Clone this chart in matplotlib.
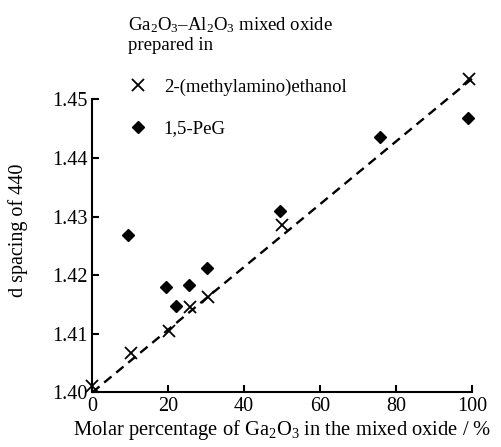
import matplotlib
matplotlib.use("Agg")
import matplotlib.pyplot as plt
from matplotlib.lines import Line2D

plt.rcParams['font.family'] = ['Liberation Serif', 'DejaVu Serif']
plt.rcParams['mathtext.fontset'] = 'custom'
plt.rcParams['mathtext.rm'] = 'Liberation Serif'
plt.rcParams['mathtext.it'] = 'Liberation Serif:italic'

# Data
mea_x = [0.0, 10.1, 20.3, 25.7, 30.4, 49.9, 99.2]
mea_y = [1.4011, 1.4068, 1.4105, 1.4145, 1.4163, 1.4285, 1.4535]
peg_x = [9.5, 19.4, 22.2, 25.5, 30.2, 49.5, 75.8, 98.9]
peg_y = [1.4268, 1.4180, 1.4148, 1.4183, 1.4213, 1.4309, 1.4436, 1.4468]
fit_x = [0.0, 100.0]
fit_y = [1.4000, 1.4535]
xticks = [0, 20, 40, 60, 80, 100]
yticks = [1.40, 1.41, 1.42, 1.43, 1.44, 1.45]

fig = plt.figure(figsize=(5.01, 4.47), dpi=100)
ax = fig.add_axes([0.184, 0.122, 0.758, 0.656])

ax.plot(fit_x, fit_y, color='black', lw=1.7, linestyle=(0, (4, 2.6)), clip_on=False, zorder=2)
ax.plot(mea_x, mea_y, 'x', color='black', markersize=9, mew=1.3, clip_on=False, zorder=3)
ax.plot(peg_x, peg_y, 'D', color='black', markersize=6, clip_on=False, zorder=3)

ax.set_xlim(0, 100)
ax.set_ylim(1.40, 1.45)
ax.set_xticks(xticks)
ax.set_xticklabels([str(v) for v in xticks])
ax.set_yticks(yticks)
ax.set_yticklabels([f"{v:.2f}" for v in yticks])
for s in ['top', 'right']:
    ax.spines[s].set_visible(False)
for s in ['left', 'bottom']:
    ax.spines[s].set_linewidth(1.5)
ax.tick_params(direction='in', length=5, width=1.5, labelsize=14.5, pad=3)

ax.set_xlabel(r"Molar percentage of Ga$_2$O$_3$ in the mixed oxide / %", fontsize=14.8, labelpad=2)
ax.set_ylabel("d spacing of 440", fontsize=14.5)
ax.yaxis.set_label_coords(-0.168, 0.553)

handles = [Line2D([], [], ls='none', marker='x', color='black', markersize=9, mew=1.3),
           Line2D([], [], ls='none', marker='D', color='black', markersize=6)]
leg = fig.legend(handles, ["2-(methylamino)ethanol", "1,5-PeG"],
                 title="Ga$_2$O$_3$–Al$_2$O$_3$ mixed oxide\nprepared in",
                 loc='upper left', bbox_to_anchor=(0.226, 1.0), frameon=False,
                 fontsize=13.5, title_fontsize=13.5, labelspacing=1.3, handlelength=1.0,
                 handletextpad=0.9, alignment='left', borderpad=0.3)

fig.savefig("out.png", dpi=100)
